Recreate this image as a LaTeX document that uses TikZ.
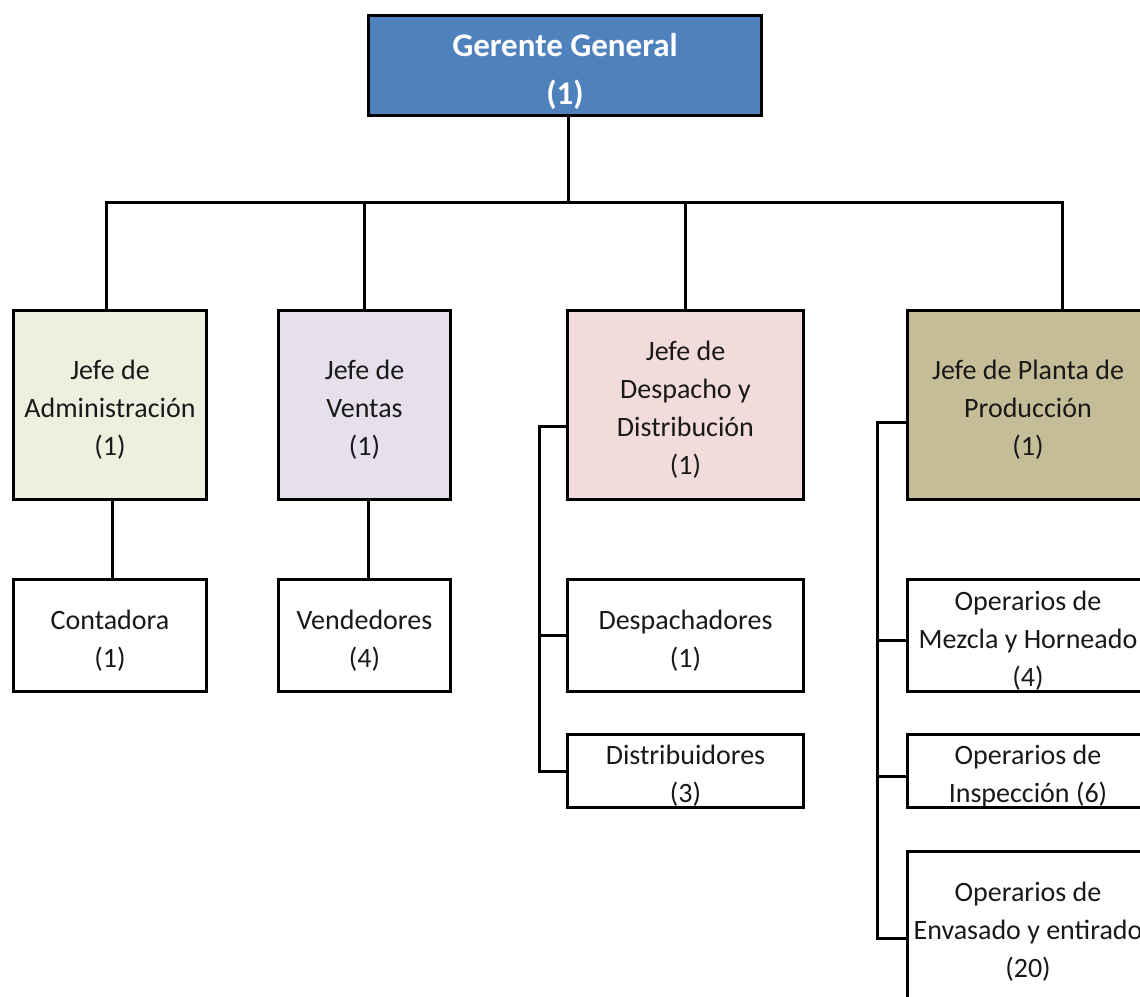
\documentclass[tikz,border=0pt]{standalone}
\usepackage{fontspec}
\setmainfont{Carlito}
\usetikzlibrary{calc}
\definecolor{gmblue}{HTML}{4F81BD}
\definecolor{adgreen}{HTML}{EBF1DE}
\definecolor{velav}{HTML}{E5E0EC}
\definecolor{dppink}{HTML}{F2DCDB}
\definecolor{pltan}{HTML}{C4BD97}
% taller first line so the block sits slightly lower in its box
\newcommand\lnstrut{\rule{0pt}{29pt}}
\newcommand\gmstrut{\rule{0pt}{35pt}}
\tikzset{
  unit/.style={draw=black, line width=3pt, fill=white, align=center, inner sep=0pt,
    font=\fontsize{28}{38}\selectfont, text=black!90},
  topunit/.style={unit, fill=gmblue, text=white, font=\fontsize{33}{48}\selectfont\bfseries},
  conn/.style={draw=black, line width=3pt, line join=miter},
}
\begin{document}
\begin{tikzpicture}[x=1pt, y=-1pt]
  \useasboundingbox (0,0) rectangle (1140,996);
  \clip (0,0) rectangle (1140,996);

  % top level
  \node[topunit, minimum width=393pt, minimum height=100pt] (g) at (565,65.5)
    {\gmstrut Gerente General\\(1)};

  % department heads
  \node[unit, fill=adgreen, minimum width=193pt, minimum height=189pt] (adm) at (110,405)
    {\lnstrut Jefe de\\Administración\\(1)};
  \node[unit, fill=velav, minimum width=172pt, minimum height=189pt] (ven) at (364.5,405)
    {\lnstrut Jefe de\\Ventas\\(1)};
  \node[unit, fill=dppink, minimum width=236pt, minimum height=189pt] (dsp) at (685.5,405)
    {\lnstrut Jefe de\\Despacho y\\Distribución\\(1)};
  \node[unit, fill=pltan, minimum width=241pt, minimum height=189pt] (pla) at (1028,405)
    {\lnstrut Jefe de Planta de\\Producción\\(1)};

  % staff
  \node[unit, minimum width=193pt, minimum height=112pt] (con) at (110,635.5)
    {\lnstrut Contadora\\(1)};
  \node[unit, minimum width=172pt, minimum height=112pt] (vnd) at (364.5,635.5)
    {\lnstrut Vendedores\\(4)};
  \node[unit, minimum width=236pt, minimum height=112pt] (dch) at (685.5,635.5)
    {\lnstrut Despachadores\\(1)};
  \node[unit, minimum width=236pt, minimum height=73pt] (dis) at (685.5,771)
    {\lnstrut Distribuidores\\(3)};
  \node[unit, minimum width=241pt, minimum height=112pt] (mez) at (1028,635.5)
    {\lnstrut Operarios de\\Mezcla y Horneado\\(4)};
  \node[unit, minimum width=241pt, minimum height=73pt] (ins) at (1028,771)
    {\lnstrut Operarios de\\Inspección (6)};
  \node[unit, minimum width=241pt, minimum height=151pt] (env) at (1028,927)
    {\lnstrut Operarios de\\Envasado y entirado\\(20)};

  % main distribution bar
  \coordinate (bar) at (0,202);
  \coordinate (adrop) at ($(adm.north)+(-4,0)$);
  \coordinate (gdrop) at ($(g.south)+(3,0)$);
  \coordinate (pdrop) at ($(pla.north)+(34,0)$);
  \draw[conn] (adrop) |- (pdrop |- bar) -- (pdrop);
  \draw[conn] (gdrop) -- (gdrop |- bar);
  \draw[conn] (ven.north) -- (ven.north |- bar);
  \draw[conn] (dsp.north) -- (dsp.north |- bar);

  % single subordinates
  \draw[conn] ($(adm.south)+(2,0)$) -- ($(con.north)+(2,0)$);
  \draw[conn] ($(ven.south)+(4,0)$) -- ($(vnd.north)+(4,0)$);

  % dispatch branch
  \draw[conn] ($(dsp.west)+(0,21)$) -| ($(dis.west)+(-27,0)$) -- (dis.west);
  \draw[conn] (dch.west) -- ++(-27,0);

  % production branch
  \draw[conn] ($(pla.west)+(0,17)$) -| ($(env.west)+(-29,11)$) -- ($(env.west)+(0,11)$);
  \draw[conn] ($(mez.west)+(0,5)$) -- ++(-29,0);
  \draw[conn] ($(ins.west)+(0,5)$) -- ++(-29,0);
\end{tikzpicture}
\end{document}
